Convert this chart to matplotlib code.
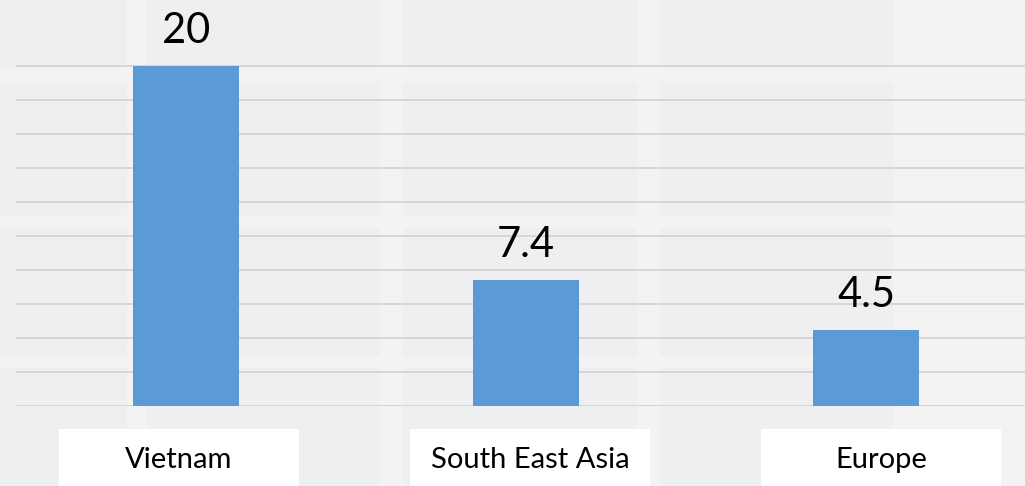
import matplotlib.pyplot as plt
from matplotlib.patches import Rectangle

regions = ["Vietnam", "South East Asia", "Europe"]
values = [20, 7.4, 4.5]
value_labels = ["20", "7.4", "4.5"]

W, H = 1025, 486
BAR_COLOR = "#5B9BD5"
FONT = ["Lato", "DejaVu Sans"]

fig = plt.figure(figsize=(W / 100, H / 100), dpi=100)
fig.patch.set_facecolor("#EEEFF0")

# background layer for the faint tile pattern
bg = fig.add_axes([0, 0, 1, 1], zorder=-5)
bg.set_xlim(0, W)
bg.set_ylim(H, 0)
bg.axis("off")


def px_rect(axis, x0, y0, x1, y1, color, z=0):
    axis.add_patch(Rectangle((x0, y0), x1 - x0, y1 - y0, facecolor=color,
                             edgecolor="none", zorder=z))


px_rect(bg, 917, 0, W, H, "#F3F3F3")
for x0, x1 in [(127, 147), (380, 403), (637, 660), (893, 917)]:
    px_rect(bg, x0, 0, x1, H, "#F3F3F4")
for y0, y1 in [(67, 82), (215, 228), (357, 367)]:
    px_rect(bg, 0, y0, W, y1, "#F3F3F4")

# axes: baseline at y=406px, 17px per unit, bars 340px apart
ax = fig.add_axes([16 / W, 1 - 406 / H, (W - 16) / W, 406 / H])
ax.set_facecolor("none")
ax.set_ylim(0, 406 / 17)
ax.set_xlim(-170 / 340, (W - 186) / 340)

ax.set_yticks(range(0, 21, 2))
ax.yaxis.grid(True, color="#D6D6D6", linewidth=1.4)
ax.set_axisbelow(True)
ax.tick_params(left=False, bottom=False, labelleft=False, labelbottom=False)
for s in ax.spines.values():
    s.set_visible(False)

xs = range(len(regions))
bars = ax.bar(xs, values, width=106 / 340, color=BAR_COLOR, zorder=3)

for b, lab in zip(bars, value_labels):
    ax.annotate(lab, (b.get_x() + b.get_width() / 2, b.get_height()),
                xytext=(0, 16.5), textcoords="offset points", ha="center",
                va="baseline", fontsize=30, family=FONT, color="black")

# category labels in white boxes (front layer)
fg = fig.add_axes([0, 0, 1, 1], zorder=5)
fg.set_xlim(0, W)
fg.set_ylim(H, 0)
fg.axis("off")
for i, name in enumerate(regions):
    x0 = 59 + i * 351
    px_rect(fg, x0, 429, x0 + 240, H + 2, "white")
    fg.text(x0 + 120, 468, name, ha="center", va="baseline",
            fontsize=21, family=FONT, color="black")

fig.savefig("out.png", dpi=100, facecolor=fig.get_facecolor())
